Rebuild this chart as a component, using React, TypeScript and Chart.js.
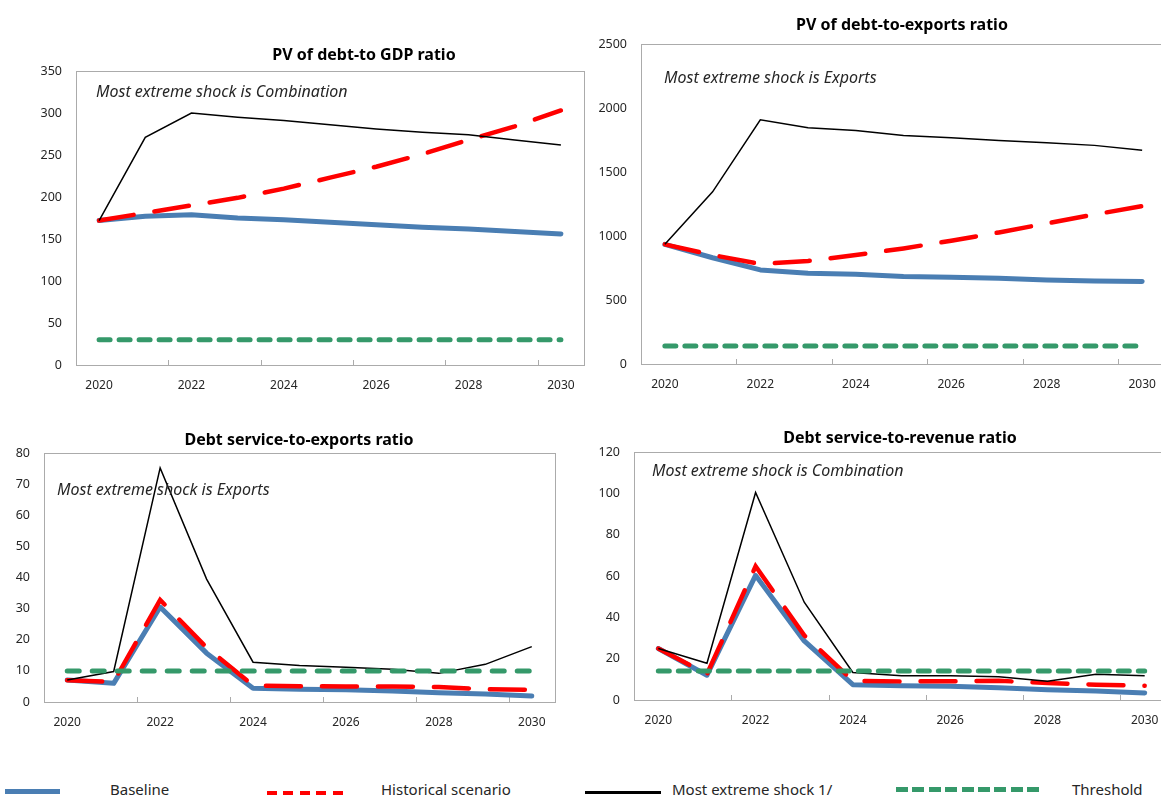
import React, { useEffect, useRef } from "react";
import { Chart, registerables } from "chart.js";

Chart.register(...registerables);

// ---------- data ----------
const years = ["2020", "2021", "2022", "2023", "2024", "2025", "2026", "2027", "2028", "2029", "2030"];

// PV of debt-to GDP ratio
const gdpBaseline = [172, 177, 179, 175, 173, 170, 167, 164, 162, 159, 156];
const gdpHistorical = [172, 181, 190, 199, 210, 223, 236, 251, 268, 284, 303];
const gdpExtreme = [172, 271, 300, 295, 291, 286, 281, 277, 274, 268, 262];
const gdpThreshold = [30, 30, 30, 30, 30, 30, 30, 30, 30, 30, 30];

// PV of debt-to-exports ratio
const expBaseline = [935, 830, 735, 709, 701, 683, 678, 670, 657, 649, 644];
const expHistorical = [935, 851, 781, 805, 851, 903, 963, 1028, 1098, 1168, 1233];
const expExtreme = [935, 1345, 1908, 1846, 1825, 1786, 1768, 1747, 1729, 1708, 1669];
const expThreshold = [140, 140, 140, 140, 140, 140, 140, 140, 140, 140, 140];

// Debt service-to-exports ratio
const dsxBaseline = [7.1, 6.0, 30.5, 15.7, 4.4, 4.1, 3.9, 3.5, 3.0, 2.6, 1.9];
const dsxHistorical = [7.0, 6.5, 32.8, 17.5, 5.3, 5.1, 5.0, 5.0, 4.8, 4.1, 3.9];
const dsxExtreme = [7.1, 9.8, 75.2, 39.5, 12.8, 11.7, 11.2, 10.5, 9.2, 12.1, 17.8];
const dsxThreshold = [10, 10, 10, 10, 10, 10, 10, 10, 10, 10, 10];

// Debt service-to-revenue ratio
const dsrBaseline = [24.9, 12.0, 60.3, 28.6, 7.4, 6.9, 6.6, 5.9, 5.0, 4.3, 3.4];
const dsrHistorical = [24.9, 12.5, 64.7, 31.3, 9.3, 9.0, 9.1, 9.3, 8.2, 7.4, 6.9];
const dsrExtreme = [24.9, 17.8, 100.4, 47.3, 13.3, 11.7, 11.7, 11.2, 9.1, 12.5, 11.7];
const dsrThreshold = [14, 14, 14, 14, 14, 14, 14, 14, 14, 14, 14];

const titles = [
  "PV of debt-to GDP ratio",
  "PV of debt-to-exports ratio",
  "Debt service-to-exports ratio",
  "Debt service-to-revenue ratio",
];
const notes = [
  "Most extreme shock is Combination",
  "Most extreme shock is Exports",
  "Most extreme shock is Exports",
  "Most extreme shock is Combination",
];
const seriesNames = ["Baseline", "Historical scenario", "Most extreme shock 1/", "Threshold"];

// ---------- styles ----------
const FONT = "'Noto Sans', 'DejaVu Sans', sans-serif";
const BLUE = "#4A7EB3";
const RED = "#FF0000";
const GREEN = "#35996A";
const FRAME = "#ABABAB";
const TXT = "#262626";

type Plot = { l: number; t: number; r: number; b: number };
type PanelCfg = {
  title: string;
  note: string;
  titleX: number;
  titleY: number;
  noteX: number;
  noteY: number;
  plot: Plot;
  canvasLeft: number;
  yMax: number;
  yStep: number;
  baseline: number[];
  historical: number[];
  extreme: number[];
  threshold: number[];
  greenDash: number[];
};

const panels: PanelCfg[] = [
  {
    title: titles[0], note: notes[0], titleX: 364, titleY: 54, noteX: 96, noteY: 91,
    plot: { l: 76, t: 71, r: 584, b: 365 }, canvasLeft: 0, yMax: 350, yStep: 50,
    baseline: gdpBaseline, historical: gdpHistorical, extreme: gdpExtreme, threshold: gdpThreshold,
    greenDash: [11, 9],
  },
  {
    title: titles[1], note: notes[1], titleX: 902, titleY: 24, noteX: 664, noteY: 77,
    plot: { l: 641, t: 44, r: 1166, b: 364 }, canvasLeft: 590, yMax: 2500, yStep: 500,
    baseline: expBaseline, historical: expHistorical, extreme: expExtreme, threshold: expThreshold,
    greenDash: [11, 9],
  },
  {
    title: titles[2], note: notes[2], titleX: 299, titleY: 439, noteX: 57, noteY: 489,
    plot: { l: 44, t: 453, r: 555, b: 702 }, canvasLeft: 0, yMax: 80, yStep: 10,
    baseline: dsxBaseline, historical: dsxHistorical, extreme: dsxExtreme, threshold: dsxThreshold,
    greenDash: [12, 13],
  },
  {
    title: titles[3], note: notes[3], titleX: 900, titleY: 437, noteX: 652, noteY: 470,
    plot: { l: 634, t: 452, r: 1169, b: 700 }, canvasLeft: 590, yMax: 120, yStep: 20,
    baseline: dsrBaseline, historical: dsrHistorical, extreme: dsrExtreme, threshold: dsrThreshold,
    greenDash: [11, 9],
  },
];

const PAD_T = 24;
const PAD_R = 6;
const X_H = 35;

const framePlugin = {
  id: "frameTicks",
  beforeDatasetsDraw(chart: any) {
    const { ctx, chartArea: a, scales } = chart;
    ctx.save();
    ctx.strokeStyle = FRAME;
    ctx.lineWidth = 1;
    ctx.strokeRect(
      Math.round(a.left) + 0.5,
      Math.round(a.top) + 0.5,
      Math.round(a.right - a.left),
      Math.round(a.bottom - a.top)
    );
    const xs = scales.x;
    ctx.beginPath();
    for (let i = 2; i < years.length; i += 2) {
      const px = Math.round((xs.getPixelForTick(i - 1) + xs.getPixelForTick(i)) / 2) + 0.5;
      ctx.moveTo(px, Math.round(a.bottom));
      ctx.lineTo(px, Math.round(a.bottom) - 5);
    }
    ctx.stroke();
    ctx.restore();
  },
};

function PanelChart({ cfg }: { cfg: PanelCfg }) {
  const ref = useRef<HTMLCanvasElement>(null);
  const yW = cfg.plot.l - cfg.canvasLeft;
  const cw = cfg.plot.r + PAD_R - cfg.canvasLeft;
  const ch = cfg.plot.b - cfg.plot.t + PAD_T + X_H;

  useEffect(() => {
    const chart = new Chart(ref.current as HTMLCanvasElement, {
      type: "line",
      data: {
        labels: years,
        datasets: [
          {
            label: seriesNames[3],
            data: cfg.threshold,
            borderColor: GREEN,
            borderWidth: 5,
            borderDash: cfg.greenDash,
            borderCapStyle: "round",
            pointRadius: 0,
            tension: 0,
          },
          {
            label: seriesNames[2],
            data: cfg.extreme,
            borderColor: "#000000",
            borderWidth: 1.5,
            pointRadius: 0,
            tension: 0,
          },
          {
            label: seriesNames[1],
            data: cfg.historical,
            borderColor: RED,
            borderWidth: 4.5,
            borderDash: [35, 21],
            borderCapStyle: "round",
            pointRadius: 0,
            tension: 0,
          },
          {
            label: seriesNames[0],
            data: cfg.baseline,
            borderColor: BLUE,
            borderWidth: 5,
            borderCapStyle: "round",
            borderJoinStyle: "round",
            pointRadius: 0,
            tension: 0,
          },
        ],
      },
      options: {
        animation: false,
        responsive: false,
        devicePixelRatio: 1,
        layout: { padding: { top: PAD_T, right: PAD_R, left: 0, bottom: 0 } },
        plugins: {
          legend: { display: false },
          tooltip: { enabled: false },
          title: { display: false },
        },
        scales: {
          x: {
            type: "category",
            offset: true,
            grid: { display: false, drawTicks: false, offset: true },
            border: { display: false },
            ticks: {
              autoSkip: false,
              maxRotation: 0,
              minRotation: 0,
              padding: 13,
              color: TXT,
              font: { family: FONT, size: 12 },
              callback: (_v: any, i: number) => (i % 2 === 0 ? years[i] : ""),
            },
            afterFit: (s: any) => {
              s.height = X_H;
            },
          },
          y: {
            min: 0,
            max: cfg.yMax,
            grid: { display: false, drawTicks: false },
            border: { display: false },
            ticks: {
              stepSize: cfg.yStep,
              padding: 14,
              color: TXT,
              font: { family: FONT, size: 12.5 },
              callback: (v: any) => String(v),
            },
            afterFit: (s: any) => {
              s.width = yW;
            },
          },
        },
      } as any,
      plugins: [framePlugin],
    });
    return () => chart.destroy();
  }, []);

  return (
    <canvas
      ref={ref}
      width={cw}
      height={ch}
      style={{
        position: "absolute",
        left: cfg.canvasLeft,
        top: cfg.plot.t - PAD_T,
        width: cw,
        height: ch,
      }}
    />
  );
}

const textBase: React.CSSProperties = {
  position: "absolute",
  fontFamily: FONT,
  lineHeight: 1,
  whiteSpace: "nowrap",
  color: "#000",
};

export default function App() {
  return (
    <div
      style={{
        position: "fixed",
        left: 0,
        top: 0,
        width: 1161,
        height: 796,
        overflow: "hidden",
        background: "#fff",
      }}
    >
      {panels.map((p, i) => (
        <PanelChart key={i} cfg={p} />
      ))}
      {panels.map((p, i) => (
        <div
          key={"t" + i}
          style={{
            ...textBase,
            left: p.titleX,
            top: p.titleY,
            transform: "translate(-50%, -50%)",
            fontSize: 16,
            fontWeight: 700,
          }}
        >
          {p.title}
        </div>
      ))}
      {panels.map((p, i) => (
        <div
          key={"n" + i}
          style={{
            ...textBase,
            left: p.noteX,
            top: p.noteY,
            transform: "translateY(-50%)",
            fontSize: 16,
            fontStyle: "italic",
            color: TXT,
          }}
        >
          {p.note}
        </div>
      ))}
      {/* legend */}
      <div style={{ position: "absolute", left: 5, top: 789, width: 55, height: 5, background: BLUE }} />
      <div style={{ ...textBase, left: 110, top: 789, transform: "translateY(-50%)", fontSize: 15, color: TXT }}>
        {seriesNames[0]}
      </div>
      <div
        style={{
          position: "absolute",
          left: 267,
          top: 791,
          width: 81,
          height: 4,
          background: `repeating-linear-gradient(to right, ${RED} 0px, ${RED} 10px, transparent 10px, transparent 16.4px)`,
        }}
      />
      <div style={{ ...textBase, left: 381, top: 789, transform: "translateY(-50%)", fontSize: 15, color: TXT }}>
        {seriesNames[1]}
      </div>
      <div style={{ position: "absolute", left: 585, top: 791, width: 76, height: 3, background: "#000" }} />
      <div style={{ ...textBase, left: 672, top: 789, transform: "translateY(-50%)", fontSize: 15, color: TXT }}>
        {seriesNames[2]}
      </div>
      <div
        style={{
          position: "absolute",
          left: 896,
          top: 787,
          width: 148,
          height: 5,
          background: `repeating-linear-gradient(to right, ${GREEN} 0px, ${GREEN} 12px, transparent 12px, transparent 16.4px)`,
        }}
      />
      <div style={{ ...textBase, left: 1072, top: 789, transform: "translateY(-50%)", fontSize: 15, color: TXT }}>
        {seriesNames[3]}
      </div>
    </div>
  );
}
